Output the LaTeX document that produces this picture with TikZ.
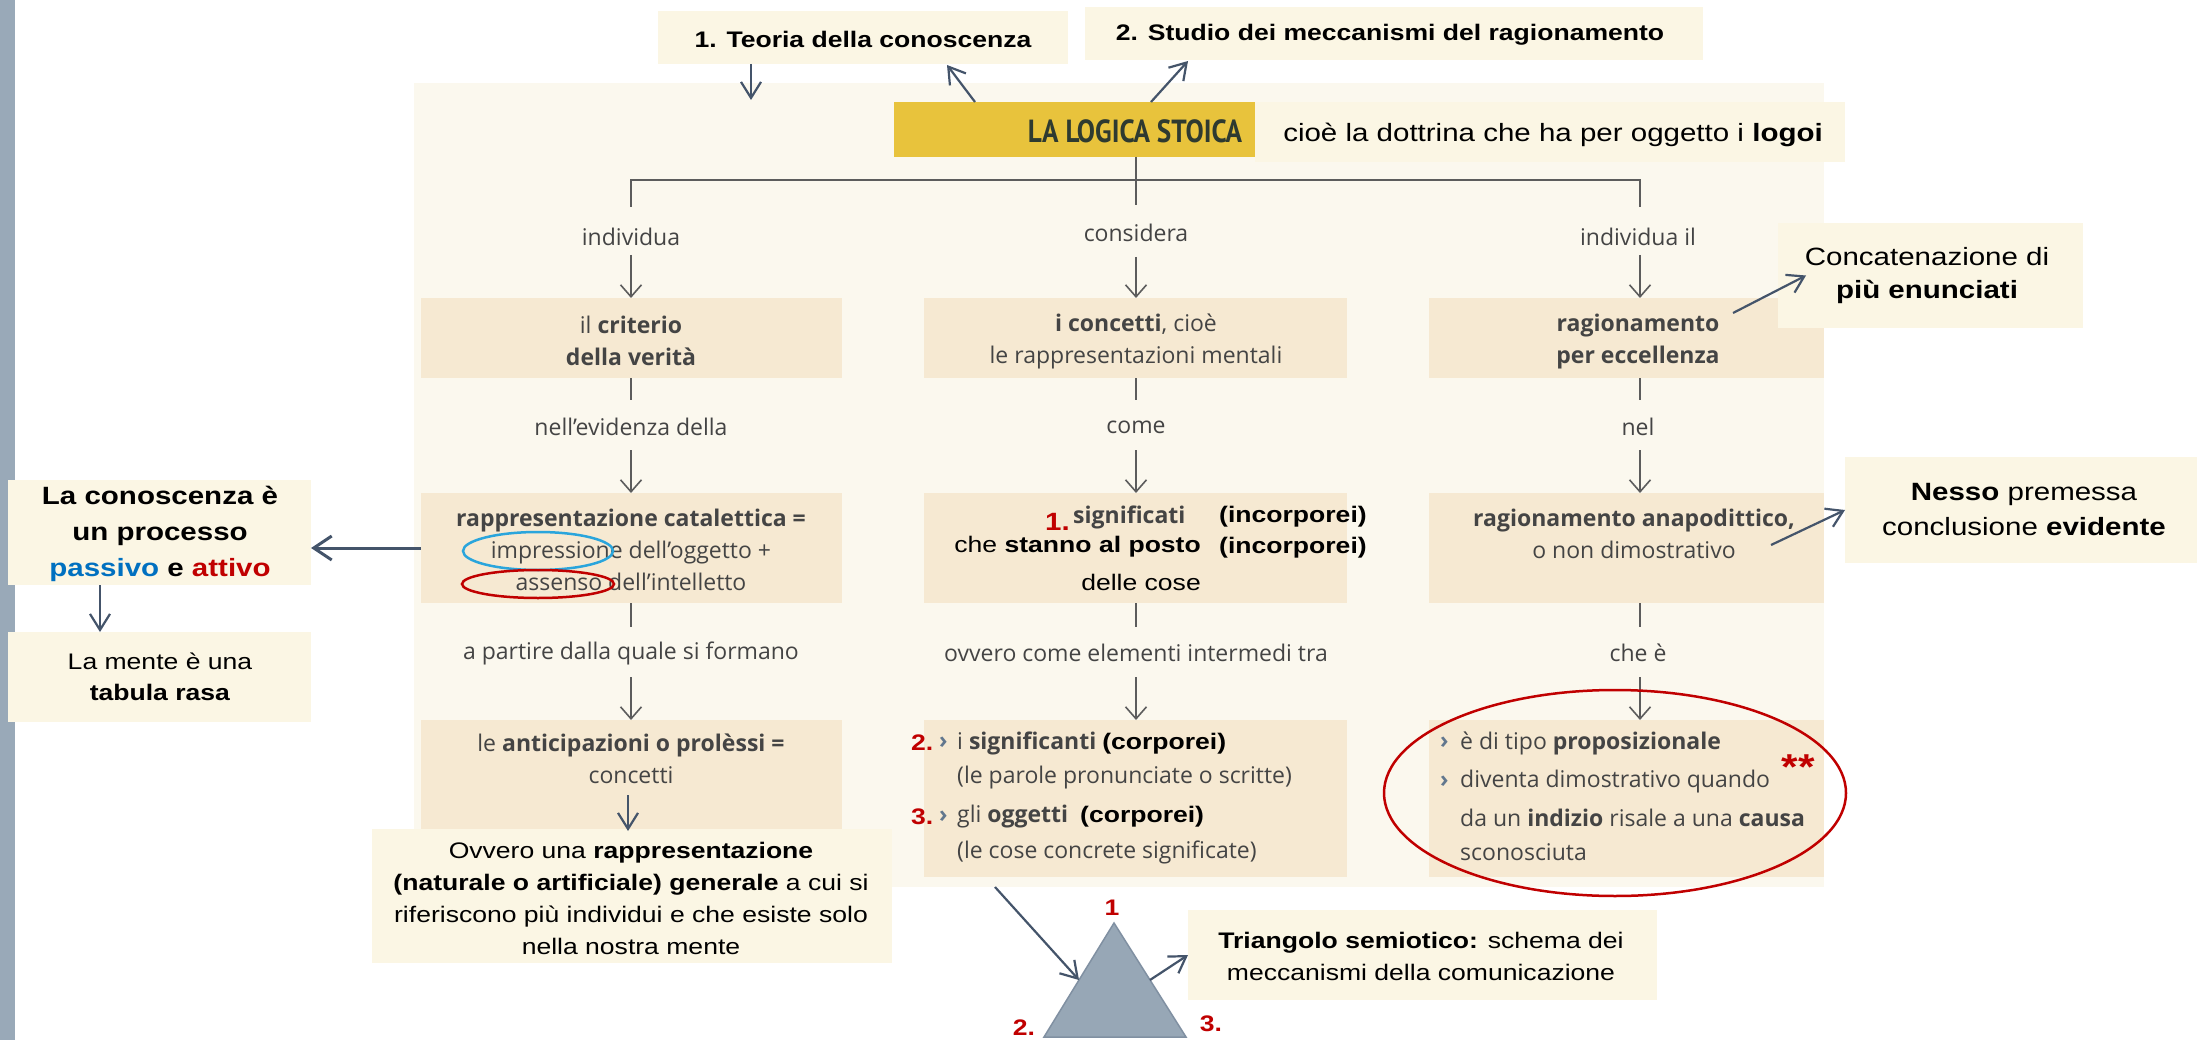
\documentclass[tikz,border=0pt]{standalone}
\usepackage{fontspec}
\setmainfont{Liberation Sans}[FakeStretch=1.18]
\newfontfamily\bookf{Open Sans}
\newfontfamily\stoicf{PT Sans}[FakeStretch=0.85]
\usetikzlibrary{arrows.meta,calc}
\definecolor{panel}{HTML}{FBF8EE}
\definecolor{tanf}{HTML}{F6E9D2}
\definecolor{cream}{HTML}{FBF6E4}
\definecolor{gold}{HTML}{E8C33C}
\definecolor{slate}{HTML}{44546A}
\definecolor{linegray}{HTML}{5C5C5C}
\definecolor{booktxt}{HTML}{444444}
\definecolor{darkred}{HTML}{C00000}
\definecolor{blueA}{HTML}{0070C0}
\definecolor{cyanO}{HTML}{2AA5DC}
\definecolor{trifill}{HTML}{97A7B6}
\definecolor{tridraw}{HTML}{8090A2}
\definecolor{barc}{HTML}{99A9B8}
\definecolor{marker}{HTML}{62778E}
\definecolor{stoic}{HTML}{2E3A30}
\newcommand\fsz[2]{\fontsize{#1}{#2}\selectfont}
\tikzset{
  box/.style={inner sep=0pt, outer sep=0pt, anchor=north west, draw=none},
  callout/.style={box, fill=cream},
  tanbox/.style={box, fill=tanf},
  book/.style={inner sep=0pt, font=\bookf\fsz{23}{32}, text=booktxt, align=center},
  ctext/.style={inner sep=0pt, font=\fsz{22.5}{32}, text=black, align=center},
  rednum/.style={inner sep=0pt, font=\bfseries\fsz{22.5}{27}, text=darkred},
  conn/.style={draw=linegray, line width=1.6pt},
  connarr/.style={conn, -{Straight Barb[length=12pt,width=21pt,line width=1.6pt]}},
  carr/.style={draw=slate, line width=2.2pt, -{Straight Barb[length=16pt,width=20pt,line width=2.2pt]}},
}
\begin{document}
\begin{tikzpicture}[x=1pt,y=-1pt]
\useasboundingbox (0,0) rectangle (2202,1040);
\fill[white] (0,0) rectangle (2202,1040);
\fill[barc] (0,0) rectangle (15,1040);

% main panel
\node[box, fill=panel, minimum width=1410pt, minimum height=804pt] (panel) at (414,83) {};

% top callouts
\node[callout, minimum width=410pt, minimum height=53pt] (teoria) at (658,11) {};
\node[ctext, font=\bfseries\fsz{22.5}{27}] (teoriaT) at (863,39) {1. Teoria della conoscenza};
\node[callout, minimum width=618pt, minimum height=53pt] (studio) at (1085,7) {};
\node[ctext, font=\bfseries\fsz{22.5}{27}] (studioT) at (1390,35) {2. Studio dei meccanismi del ragionamento};

% title
\node[box, fill=gold, minimum width=484pt, minimum height=55pt] (stoica) at (894,102) {};
\node[inner sep=0pt, font=\stoicf\bfseries\fsz{32}{34}, text=stoic] (stoicaT) at (1135,131) {LA LOGICA STOICA};
\node[callout, minimum width=590pt, minimum height=60pt] (cioe) at (1255,102) {};
\node[ctext, font=\fsz{25}{30}] (cioeT) at (1553,135) {cioè la dottrina che ha per oggetto i \textbf{logoi}};

% column references
\coordinate (colA) at (631,0);
\coordinate (colB) at (1136,0);
\coordinate (colC) at (1640,0);

% bracket
\coordinate (brA) at (631,180);
\coordinate (brC) at (1640,180);
\coordinate (brAe) at (631,207);
\coordinate (brCe) at (1640,207);
\draw[conn] (stoica.south) -- ++(0,48);
\draw[conn] (brAe) -- (brA) -- (brC) -- (brCe);

% row 0 labels
\node[book] (lA0) at (631,237) {individua};
\node[book] (lB0) at (1136,233) {considera};
\node[book] (lC0) at (1638,237) {individua il};

% row 1 boxes
\node[tanbox, minimum width=421pt, minimum height=80pt] (c1) at (421,298) {};
\node[tanbox, minimum width=423pt, minimum height=80pt] (c2) at (924,298) {};
\node[tanbox, minimum width=395pt, minimum height=80pt] (c3) at (1429,298) {};
\node[book] (c1T) at (631,341) {il \textbf{criterio}\\\textbf{della verità}};
\node[book] (c2T) at (1136,341) {\textbf{i concetti}, cioè\\le rappresentazioni mentali};
\node[book] (c3T) at (1638,342) {\textbf{ragionamento}\\\textbf{per eccellenza}};
\draw[connarr] ($(c1.north -| colA)+(0,-43)$) -- (c1.north -| colA);
\draw[connarr] ($(c2.north -| colB)+(0,-41)$) -- (c2.north -| colB);
\draw[connarr] ($(c3.north -| colC)+(0,-43)$) -- (c3.north -| colC);

% row 1.5
\draw[conn] (c1.south -| colA) -- ++(0,22);
\draw[conn] (c2.south -| colB) -- ++(0,22);
\draw[conn] (c3.south -| colC) -- ++(0,22);
\node[book] (lA1) at (631,427) {nell’evidenza della};
\node[book] (lB1) at (1136,427) {come};
\node[book] (lC1) at (1638,427) {nel};

% row 2 boxes
\node[tanbox, minimum width=421pt, minimum height=110pt] (d1) at (421,493) {};
\node[tanbox, minimum width=423pt, minimum height=110pt] (d2) at (924,493) {};
\node[tanbox, minimum width=395pt, minimum height=110pt] (d3) at (1429,493) {};
\draw[connarr] ($(d1.north -| colA)+(0,-43)$) -- (d1.north -| colA);
\draw[connarr] ($(d2.north -| colB)+(0,-43)$) -- (d2.north -| colB);
\draw[connarr] ($(d3.north -| colC)+(0,-43)$) -- (d3.north -| colC);
\node[book] (d1T) at (631,550) {\textbf{rappresentazione catalettica =}\\impressione dell’oggetto +\\assenso dell’intelletto};
\node[book] (d3T) at (1634,534) {\textbf{ragionamento anapodittico,}\\o non dimostrativo};
\node[rednum, anchor=east, font=\bfseries\fsz{25}{27}] (n1) at (1070,522) {1.};
\node[book, anchor=west, font=\bookf\bfseries\fsz{23}{32}] (sigT) at (1073,517) {significati};
\node[ctext, anchor=east] (stannoT) at (1201,547) {che \textbf{stanno al posto}};
\node[ctext, anchor=east] (coseT) at (1201,582) {delle cose};
\node[ctext, anchor=west, font=\bfseries\fsz{22.5}{27}] (inc1) at (1219,517) {(incorporei)};
\node[ctext, anchor=west, font=\bfseries\fsz{22.5}{27}] (inc2) at (1219,548) {(incorporei)};
\draw[cyanO, line width=2.5pt] (538,551) ellipse [x radius=75pt, y radius=19pt];
\draw[darkred, line width=2.5pt] (538,584) ellipse [x radius=76pt, y radius=14pt];

% row 2.5
\draw[conn] (d1.south -| colA) -- ++(0,24);
\draw[conn] (d2.south -| colB) -- ++(0,24);
\draw[conn] (d3.south -| colC) -- ++(0,24);
\node[book] (lA2) at (631,653) {a partire dalla quale si formano};
\node[book] (lB2) at (1136,653) {ovvero come elementi intermedi tra};
\node[book] (lC2) at (1638,653) {che è};

% row 3 boxes
\node[tanbox, minimum width=421pt, minimum height=157pt] (e1) at (421,720) {};
\node[tanbox, minimum width=423pt, minimum height=157pt] (e2) at (924,720) {};
\node[tanbox, minimum width=395pt, minimum height=157pt] (e3) at (1429,720) {};
\draw[connarr] ($(e1.north -| colA)+(0,-43)$) -- (e1.north -| colA);
\draw[connarr] ($(e2.north -| colB)+(0,-43)$) -- (e2.north -| colB);
\draw[connarr] ($(e3.north -| colC)+(0,-43)$) -- (e3.north -| colC);
\node[book] (e1T) at (631,759) {le \textbf{anticipazioni o prolèssi =}\\concetti};

\node[rednum, anchor=west] (n2) at (911,743) {2.};
\node[book, anchor=west, text=marker] (m2) at (939,743) {\bfseries ›};
\node[book, anchor=west] (e2a) at (957,743) {i \textbf{significanti} {\normalfont\bfseries\fsz{22.5}{27}\color{black}(corporei)}};
\node[book, anchor=west] (e2b) at (957,778) {(le parole pronunciate o scritte)};
\node[rednum, anchor=west] (n3) at (911,817) {3.};
\node[book, anchor=west, text=marker] (m3) at (939,817) {\bfseries ›};
\node[book, anchor=west] (e2c) at (957,817) {gli \textbf{oggetti}\ \ {\normalfont\bfseries\fsz{22.5}{27}\color{black}(corporei)}};
\node[book, anchor=west] (e2d) at (957,852) {(le cose concrete significate)};

\node[book, anchor=west, text=marker] (m4) at (1440,743) {\bfseries ›};
\node[book, anchor=west] (e3a) at (1460,743) {è di tipo \textbf{proposizionale}};
\node[book, anchor=west, text=marker] (m5) at (1440,782) {\bfseries ›};
\node[book, anchor=west] (e3b) at (1460,782) {diventa dimostrativo quando};
\node[book, anchor=west] (e3c) at (1460,818) {da un \textbf{indizio} risale a una \textbf{causa}};
\node[book, anchor=west] (e3d) at (1460,852) {sconosciuta};
\draw[darkred, line width=2.5pt] (1615,793) ellipse [x radius=231pt, y radius=103pt];
\node[inner sep=0pt, font=\bfseries\fsz{36}{40}, text=darkred] (stars) at (1798,767) {**};

% left callouts
\node[callout, minimum width=303pt, minimum height=105pt] (conosc) at (8,480) {};
\node[ctext, font=\bfseries\fsz{25}{36}] (conoscT) at (160,534) {La conoscenza è\\un processo\\{\color{blueA}passivo} e {\color{darkred}attivo}};
\node[callout, minimum width=303pt, minimum height=90pt] (mente) at (8,632) {};
\node[ctext, font=\fsz{22.5}{31}] (menteT) at (160,677) {La mente è una\\\textbf{tabula rasa}};
\draw[slate, line width=3pt, -{Straight Barb[length=18pt,width=24pt,line width=3pt]}] (d1.west) -- (d1.west -| conosc.east);
\draw[carr] ($(conosc.south west)+(92,0)$) -- ($(mente.north west)+(92,0)$);

% Ovvero
\node[callout, minimum width=520pt, minimum height=134pt] (ovvero) at (372,829) {};
\node[ctext, font=\fsz{22.5}{32}] (ovveroT) at (631,898) {Ovvero una \textbf{rappresentazione}\\\textbf{(naturale o artificiale) generale} a cui si\\riferiscono più individui e che esiste solo\\nella nostra mente};
\draw[carr] ($(e1.north west)+(207,75)$) -- ($(ovvero.north west)+(256,2)$);

% right callouts
\node[callout, minimum width=305pt, minimum height=105pt] (concat) at (1778,223) {};
\node[ctext, font=\fsz{25}{33}] (concatT) at (1927,276) {Concatenazione di\\\textbf{più enunciati}};
\draw[carr] ($(c3.north west)+(304,15)$) -- ($(concat.west)+(28,0)$);
\node[callout, minimum width=352pt, minimum height=106pt] (nesso) at (1845,457) {};
\node[ctext, font=\fsz{25}{35}] (nessoT) at (2024,510) {\textbf{Nesso} premessa\\conclusione \textbf{evidente}};
\draw[carr] ($(d3.north west)+(342,52)$) -- (nesso.west);

% top arrows
\coordinate (intoPanel) at (751,100);
\draw[carr] ($(teoria.south west)+(93,0)$) -- (intoPanel);
\draw[carr] ($(stoica.north west)+(81,0)$) -- ($(teoria.south west)+(289,1)$);
\draw[carr] ($(stoica.north west)+(257,0)$) -- ($(studio.south west)+(103,1)$);

% triangle
\coordinate (tA) at (1114,923);
\coordinate (tB) at (1044,1037);
\coordinate (tC) at (1186,1037);
\draw[fill=trifill, draw=tridraw, line width=1.5pt, line join=miter] (tA) -- (tB) -- (tC) -- cycle;
\node[rednum] (t1) at (1112,908) {1};
\node[rednum] (t2) at (1024,1028) {2.};
\node[rednum] (t3) at (1211,1024) {3.};
\node[callout, minimum width=469pt, minimum height=90pt] (trig) at (1188,910) {};
\node[ctext, font=\fsz{22.5}{32}] (trigT) at (1421,956) {\textbf{Triangolo semiotico:} schema dei\\meccanismi della comunicazione};
\coordinate (sigStart) at ($(e2.south west)+(71,10)$);
\draw[carr] (sigStart) -- ($(tA)!0.5!(tB)$);
\draw[carr] ($(tA)!0.5!(tC)$) -- ($(trig.south west)+(0,-45)$);
\end{tikzpicture}
\end{document}
